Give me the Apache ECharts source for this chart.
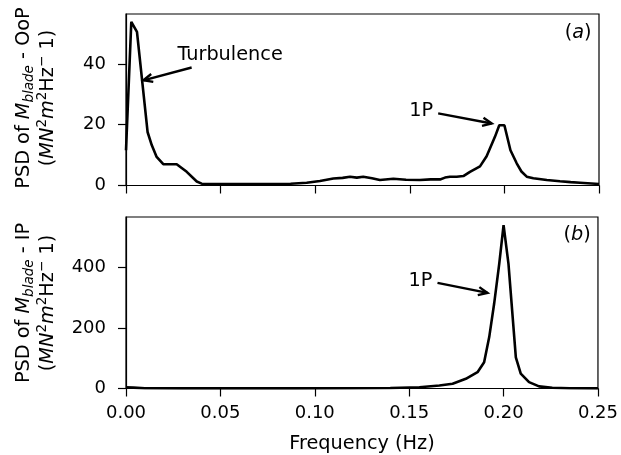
<!DOCTYPE html>
<html><head><meta charset="utf-8">
<script src="https://cdn.jsdelivr.net/npm/echarts@6/dist/echarts.min.js"></script>
<style>html,body{margin:0;padding:0;background:#fff}#c{width:621px;height:455px}</style>
</head><body><div id="c"></div>
<script>
// ---- data ----
const freqOoP = [0, 0.0028, 0.0058, 0.0114, 0.0136, 0.0162, 0.0197, 0.0268, 0.0321, 0.0374, 0.040, 0.045, 0.055, 0.065, 0.075, 0.087, 0.0955, 0.1025, 0.1096, 0.1145, 0.1184, 0.122, 0.1254, 0.1300, 0.1342, 0.1413, 0.1480, 0.1554, 0.1610, 0.166, 0.1686, 0.1712, 0.1748, 0.1783, 0.1818, 0.1871, 0.1906, 0.195, 0.1973, 0.2, 0.2032, 0.2065, 0.2090, 0.2118, 0.2153, 0.2224, 0.2294, 0.2350, 0.2400, 0.25];
const psdOoP  = [11.6, 53.8, 50.5, 17.6, 13.3, 9.4, 7.0, 7.0, 4.5, 1.3, 0.6, 0.5, 0.5, 0.45, 0.45, 0.6, 0.9, 1.5, 2.3, 2.5, 2.9, 2.6, 2.9, 2.4, 1.8, 2.2, 1.9, 1.8, 2.0, 2.0, 2.6, 2.9, 2.9, 3.1, 4.5, 6.3, 9.6, 16, 19.8, 19.8, 11.6, 7.3, 4.6, 2.9, 2.4, 1.8, 1.4, 1.1, 0.9, 0.5];
const freqIP = [0, 0.004, 0.01, 0.03, 0.06, 0.09, 0.12, 0.14, 0.1554, 0.166, 0.173, 0.18, 0.1862, 0.1897, 0.1924, 0.195, 0.1977, 0.2, 0.2026, 0.2065, 0.2091, 0.2135, 0.2188, 0.2258, 0.235, 0.25];
const psdIP  = [4, 3, 1, 0.5, 0.5, 0.5, 0.8, 1.5, 4, 10, 15.5, 32, 54, 87, 170, 280, 412, 540, 412, 103, 49, 21, 7, 2.5, 1, 0.5];
const xTicks = [0, 0.05, 0.10, 0.15, 0.20, 0.25];
const yTicksOoP = [0, 20, 40];
const yTicksIP = [0, 200, 400];
const yMaxOoP = 56.4;
const yMaxIP = 567;
const xLabel = 'Frequency (Hz)';
// annotations in data coordinates: text anchor, arrow tail, arrow head
const annotations = [
  {grid: 0, text: 'Turbulence', at: [0.055, 42.8], tail: [0.0347, 38.8], head: [0.0092, 34.6]},
  {grid: 0, text: '1P', at: [0.156, 24.4], tail: [0.165, 23.7], head: [0.1933, 20.4]},
  {grid: 1, text: '1P', at: [0.156, 357], tail: [0.165, 349], head: [0.1915, 316]}
];
const panelTags = [
  {grid: 0, tag: 'a', at: [0.239, 50.3]},
  {grid: 1, tag: 'b', at: [0.239, 506]}
];

// ---- chart ----
const FONT = 'DejaVu Sans';
const TICK_FS = 18;
const LABEL_FS = 19.3;
const chart = echarts.init(document.getElementById('c'), null, {renderer: 'canvas'});
const toPairs = (xs, ys) => xs.map((x, i) => [x, ys[i]]);

function xAxisCfg(g, showLabels) {
  return {
    gridIndex: g, type: 'value', min: xTicks[0], max: xTicks[xTicks.length - 1], interval: xTicks[1] - xTicks[0],
    axisLine: {show: true, onZero: false, lineStyle: {color: '#000', width: 1.2}},
    axisTick: {show: true, inside: false, length: 8, lineStyle: {color: '#000', width: 1.2}},
    axisLabel: {show: showLabels, margin: 16, fontSize: TICK_FS, color: '#000', fontFamily: FONT,
      formatter: v => v.toFixed(2)},
    splitLine: {show: false},
    name: showLabels ? xLabel : '', nameLocation: 'middle', nameGap: 46,
    nameTextStyle: {fontSize: LABEL_FS, color: '#000', fontFamily: FONT}
  };
}
function yAxisCfg(g, max, ticks) {
  return {
    gridIndex: g, type: 'value', min: 0, max: max, interval: ticks[1] - ticks[0],
    axisLine: {show: true, onZero: false, lineStyle: {color: '#000', width: 1.2}},
    axisTick: {show: true, length: 8, customValues: ticks, lineStyle: {color: '#000', width: 1.2}},
    axisLabel: {show: true, margin: 20, fontSize: TICK_FS, color: '#000', fontFamily: FONT,
      customValues: ticks},
    splitLine: {show: false}
  };
}

const option = {
  animation: false,
  backgroundColor: '#fff',
  grid: [
    {left: 126, top: 14, width: 473, height: 171.5, show: true, borderColor: '#000', borderWidth: 1.2, backgroundColor: 'transparent'},
    {left: 126, top: 217, width: 473, height: 171.5, show: true, borderColor: '#000', borderWidth: 1.2, backgroundColor: 'transparent'}
  ],
  xAxis: [xAxisCfg(0, false), xAxisCfg(1, true)],
  yAxis: [yAxisCfg(0, yMaxOoP, yTicksOoP), yAxisCfg(1, yMaxIP, yTicksIP)],
  series: [
    {type: 'line', xAxisIndex: 0, yAxisIndex: 0, data: toPairs(freqOoP, psdOoP), showSymbol: false,
      lineStyle: {color: '#000', width: 2.6}, silent: true},
    {type: 'line', xAxisIndex: 1, yAxisIndex: 1, data: toPairs(freqIP, psdIP), showSymbol: false,
      lineStyle: {color: '#000', width: 2.6}, silent: true}
  ]
};
chart.setOption(option);

// ---- annotations & labels ----
const rich = {
  n: {fontFamily: FONT, fontSize: LABEL_FS, lineHeight: 25, verticalAlign: 'middle', color: '#000'},
  i: {fontFamily: FONT, fontSize: LABEL_FS, lineHeight: 25, verticalAlign: 'middle', fontStyle: 'italic', color: '#000'},
  sub: {fontFamily: FONT, fontSize: 13.5, lineHeight: 12, verticalAlign: 'bottom', fontStyle: 'italic', color: '#000'},
  sup: {fontFamily: FONT, fontSize: 13.5, lineHeight: 12, verticalAlign: 'top', color: '#000'}
};
const graphics = [];
function textEl(x, y, text, rot) {
  return {type: 'text', x: x, y: y, rotation: rot || 0, silent: true,
    style: {text: text, rich: rich, align: 'center', verticalAlign: 'middle', fill: '#000',
      fontFamily: FONT, fontSize: LABEL_FS}};
}
// y-axis titles
const yTitles = [
  {cy: 98, l1: '{n|PSD of }{i|M}{sub|blade}{n| - OoP}'},
  {cy: 303, l1: '{n|PSD of }{i|M}{sub|blade}{n| - IP}'}
];
yTitles.forEach(t => {
  graphics.push(textEl(24, t.cy, t.l1, Math.PI / 2));
  graphics.push(textEl(48, t.cy, '{n|(}{i|MN}{sup|2}{i|m}{sup|2}{n|Hz}{sup|−}{n| 1)}', Math.PI / 2));
});
annotations.forEach(a => {
  const p = chart.convertToPixel({gridIndex: a.grid}, a.at);
  const t = chart.convertToPixel({gridIndex: a.grid}, a.tail);
  const h = chart.convertToPixel({gridIndex: a.grid}, a.head);
  graphics.push(textEl(p[0], p[1], '{n|' + a.text + '}'));
  graphics.push({type: 'line', silent: true, shape: {x1: t[0], y1: t[1], x2: h[0], y2: h[1]},
    style: {stroke: '#000', lineWidth: 2.4}});
  const ang = Math.atan2(h[1] - t[1], h[0] - t[0]);
  const L = 10, th = 0.42;
  const p1 = [h[0] - L * Math.cos(ang - th), h[1] - L * Math.sin(ang - th)];
  const p2 = [h[0] - L * Math.cos(ang + th), h[1] - L * Math.sin(ang + th)];
  graphics.push({type: 'polyline', silent: true, shape: {points: [p1, h, p2]},
    style: {stroke: '#000', lineWidth: 2.4, fill: null, lineJoin: 'miter'}});
});
panelTags.forEach(a => {
  const p = chart.convertToPixel({gridIndex: a.grid}, a.at);
  graphics.push(textEl(p[0], p[1], '{n|(}{i|' + a.tag + '}{n|)}'));
});
chart.setOption({graphic: {elements: graphics}});
</script>
</body></html>
